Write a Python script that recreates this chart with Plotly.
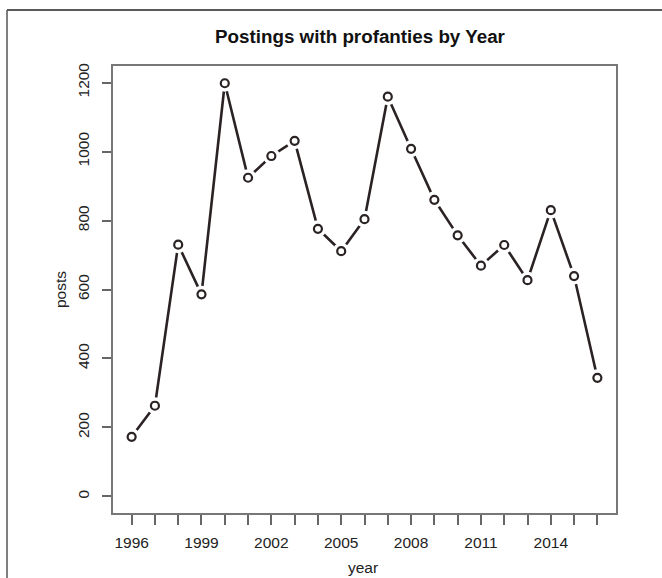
import plotly.graph_objects as go

years = list(range(1996, 2017))
posts = [173, 263, 730, 586, 1198, 924, 987, 1031, 776, 711, 804, 1159,
         1008, 860, 757, 669, 729, 627, 830, 639, 344]
x_tick_vals = list(range(1996, 2017))
x_tick_labels = [str(y) if (y - 1996) % 3 == 0 else "" for y in x_tick_vals]
y_tick_vals = [0, 200, 400, 600, 800, 1000, 1200]

W, H = 662, 578
L, R, T, B = 113, 46, 66, 65
pw, ph = W - L - R, H - T - B

def px(xp):
    return (xp - L) / pw

def py(yp):
    return (H - B - yp) / ph

ink = "#2b2323"
fig = go.Figure()
fig.add_trace(go.Scatter(x=years, y=posts, mode="lines",
                         line=dict(color=ink, width=2.6), hoverinfo="skip"))
fig.add_trace(go.Scatter(x=years, y=posts, mode="markers",
                         marker=dict(symbol="circle", size=17, color="white",
                                     line=dict(width=0)), hoverinfo="skip"))
fig.add_trace(go.Scatter(x=years, y=posts, mode="markers",
                         marker=dict(symbol="circle", size=8, color="white",
                                     line=dict(width=2.2, color=ink))))

font = "Liberation Sans, Arial, sans-serif"
fig.update_layout(
    width=W, height=H, margin=dict(l=L, r=R, t=T, b=B),
    paper_bgcolor="white", plot_bgcolor="white", showlegend=False,
    font=dict(family=font, size=15.5, color="#222"),
    title=dict(text="<b>Postings with profanties by Year</b>", x=px(360), xref="paper",
               xanchor="center", y=1 - 36 / H, yref="container", yanchor="middle",
               font=dict(size=18.8, family=font, color="#111")),
    xaxis=dict(range=[1995.2, 2016.8], tickmode="array", tickvals=x_tick_vals,
               ticktext=x_tick_labels, ticks="outside", ticklen=10, tickwidth=1.5,
               tickcolor="#666", showline=True, linecolor="#777", linewidth=1.5,
               mirror=True, showgrid=False, zeroline=False, ticklabelstandoff=5),
    yaxis=dict(range=[-48, 1248], tickmode="array", tickvals=y_tick_vals,
               ticks="outside", ticklen=9, tickwidth=1.5, tickcolor="#666",
               showline=True, linecolor="#777", linewidth=1.5, mirror=True,
               showgrid=False, zeroline=False, tickangle=-90, ticklabelstandoff=7),
    annotations=[
        dict(text="year", x=px(363), y=py(567), xref="paper", yref="paper",
             showarrow=False, xanchor="center", yanchor="middle",
             font=dict(size=15.5, family=font, color="#222")),
        dict(text="posts", x=px(60), y=py(290), xref="paper", yref="paper",
             showarrow=False, xanchor="center", yanchor="middle", textangle=-90,
             font=dict(size=15.5, family=font, color="#222")),
    ],
    shapes=[
        dict(type="line", xref="paper", yref="paper", x0=px(7), x1=px(662),
             y0=py(10), y1=py(10), line=dict(color="#222", width=1.5)),
        dict(type="line", xref="paper", yref="paper", x0=px(7), x1=px(7),
             y0=py(10), y1=py(578), line=dict(color="#555", width=1.5)),
    ],
)
fig.write_html("out.html", config={"displayModeBar": False},
               post_script="document.body.style.margin='0';document.body.style.overflow='hidden';")
